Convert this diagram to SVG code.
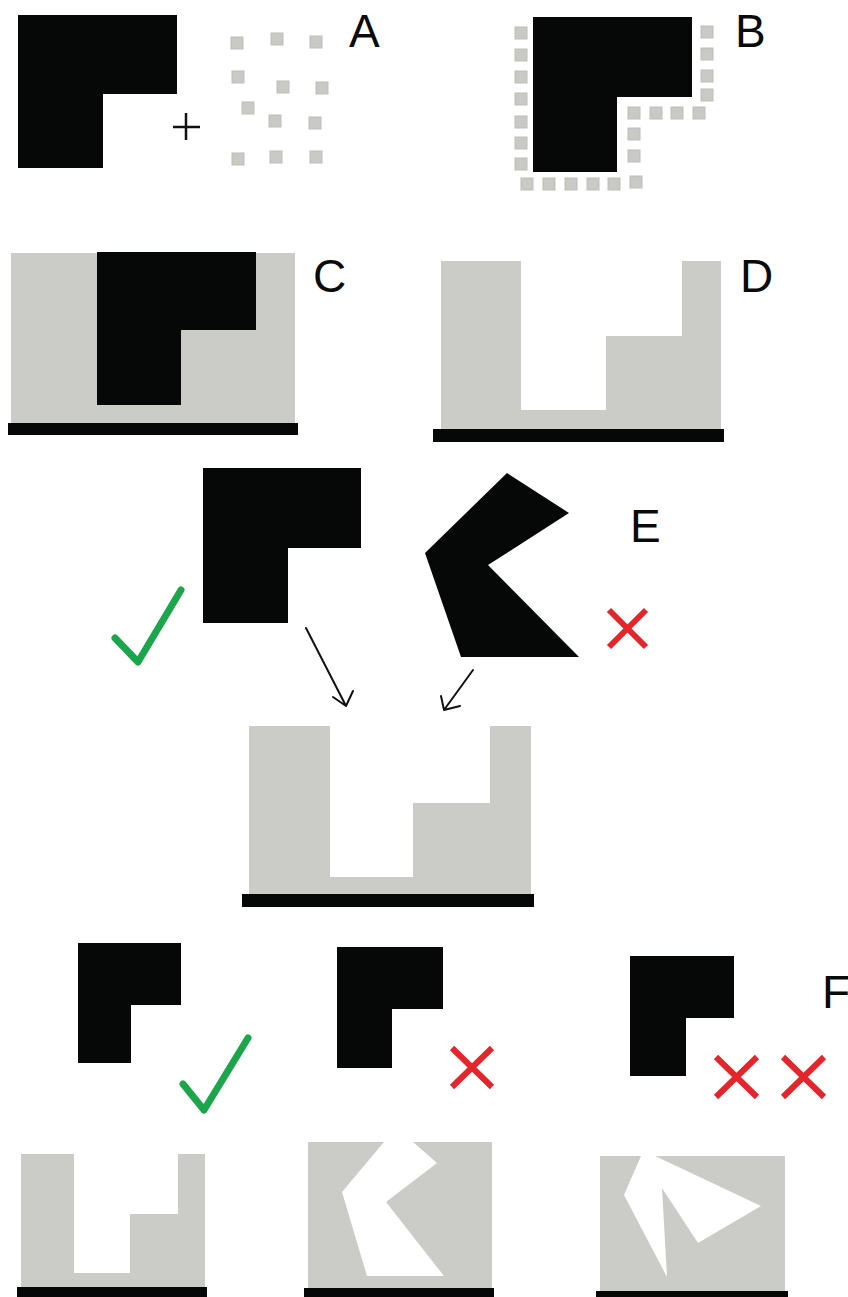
<svg xmlns="http://www.w3.org/2000/svg" width="848" height="1297" viewBox="0 0 848 1297">
<style>
.blk{fill:#060707}
.gry{fill:#cbccc7}
.wht{fill:#ffffff}
.sq{fill:#c9c9c5;stroke:#bdbdb8;stroke-width:1}
.lbl{font-family:"Liberation Sans",Arial,sans-serif;font-size:46px;fill:#0a0a0a}
.ok{fill:none;stroke:#1da54b;stroke-width:7;stroke-linecap:round;stroke-linejoin:round}
.no{fill:none;stroke:#e3262b;stroke-width:6;stroke-linecap:butt}
.arr{fill:none;stroke:#111;stroke-width:2;stroke-linecap:round;stroke-linejoin:round}
</style>
<defs>
<rect id="s" class="sq" x="-6" y="-6" width="12" height="12"/>
</defs>
<rect width="848" height="1297" fill="#ffffff"/>

<g id="panelA">
<polygon class="blk" points="18,15 177,15 177,94 103,94 103,168 18,168"/>
<path d="M173,127 H200 M186,113 V140" stroke="#111" stroke-width="2.5" fill="none"/>
<use href="#s" x="237" y="43"/><use href="#s" x="277" y="39"/><use href="#s" x="316" y="42"/>
<use href="#s" x="238" y="77"/><use href="#s" x="283" y="87"/><use href="#s" x="322" y="88"/>
<use href="#s" x="248" y="108"/><use href="#s" x="275" y="121"/><use href="#s" x="315" y="123"/>
<use href="#s" x="238" y="159"/><use href="#s" x="276" y="157"/><use href="#s" x="316" y="157"/>
<text class="lbl" x="349" y="47">A</text>
</g>

<g id="panelB">
<polygon class="blk" points="533,17 692,17 692,97 617,97 617,172 533,172"/>
<use href="#s" x="521" y="33"/><use href="#s" x="521" y="55"/><use href="#s" x="521" y="77"/>
<use href="#s" x="521" y="99"/><use href="#s" x="521" y="122"/><use href="#s" x="521" y="143"/>
<use href="#s" x="521" y="164"/>
<use href="#s" x="527" y="184"/><use href="#s" x="549" y="184"/><use href="#s" x="571" y="184"/>
<use href="#s" x="593" y="184"/><use href="#s" x="614" y="184"/><use href="#s" x="636" y="182"/>
<use href="#s" x="707" y="32"/><use href="#s" x="707" y="54"/><use href="#s" x="707" y="76"/><use href="#s" x="707" y="95"/>
<use href="#s" x="634" y="113"/><use href="#s" x="656" y="113"/><use href="#s" x="677" y="113"/><use href="#s" x="699" y="113"/>
<use href="#s" x="634" y="134"/><use href="#s" x="634" y="156"/>
<text class="lbl" x="735" y="47">B</text>
</g>

<g id="panelC">
<rect class="gry" x="11" y="253" width="284" height="171"/>
<polygon class="blk" points="97,252 256,252 256,330 181,330 181,405 97,405"/>
<rect class="blk" x="8" y="423" width="290" height="12"/>
<text class="lbl" x="313" y="292">C</text>
</g>

<g id="panelD">
<polygon class="gry" points="441,261 521,261 521,410 606,410 606,336 682,336 682,261 721,261 721,430 441,430"/>
<rect class="blk" x="433" y="429" width="291" height="13"/>
<text class="lbl" x="740" y="292">D</text>
</g>

<g id="panelE">
<polygon class="blk" points="203,468 361,468 361,548 288,548 288,623 203,623"/>
<polygon class="blk" points="507,473 569,513 488,565 579,657 461,657 425,553"/>
<polyline class="ok" points="115,638 138,662 181,590"/>
<path class="no" d="M609,610 L646,647 M646,610 L609,647"/>
<polygon class="gry" points="249,726 330,726 330,877 413,877 413,803 490,803 490,726 531,726 531,894 249,894"/>
<rect class="blk" x="242" y="894" width="292" height="13"/>
<text class="lbl" x="630" y="542">E</text>
</g>

<g id="connectors">
<path class="arr" d="M306,628 L346,706 M333,697 L346,706 L353,691"/>
<path class="arr" d="M473,670 L444,710 M441,696 L444,710 L460,706"/>
</g>

<g id="panelF">
<polygon class="blk" points="78,943 181,943 181,1005 131,1005 131,1063 78,1063"/>
<polyline class="ok" points="183,1084 204,1110 248,1038"/>
<polygon class="blk" points="337,947 443,947 443,1009 392,1009 392,1068 337,1068"/>
<path class="no" d="M452,1048 L492,1087 M492,1048 L452,1087"/>
<polygon class="blk" points="630,956 734,956 734,1018 686,1018 686,1076 630,1076"/>
<path class="no" d="M716,1057 L757,1097 M757,1057 L716,1097"/>
<path class="no" d="M783,1057 L824,1097 M824,1057 L783,1097"/>
<text class="lbl" x="822" y="1008">F</text>

<polygon class="gry" points="21,1154 74,1154 74,1273 130,1273 130,1214 178,1214 178,1154 205,1154 205,1288 21,1288"/>
<rect class="blk" x="17" y="1287" width="190" height="10"/>

<rect class="gry" x="308" y="1142" width="184" height="147"/>
<polygon class="wht" points="384,1142 413,1142 437,1163 386,1202 444,1276 367,1276 342,1192"/>
<rect class="blk" x="304" y="1288" width="190" height="9"/>

<rect class="gry" x="600" y="1156" width="185" height="135"/>
<polygon class="wht" points="641,1156 655,1156 761,1206 698,1243 662,1188 667,1277 624,1195"/>
<rect class="blk" x="596" y="1291" width="192" height="6"/>
</g>
</svg>
